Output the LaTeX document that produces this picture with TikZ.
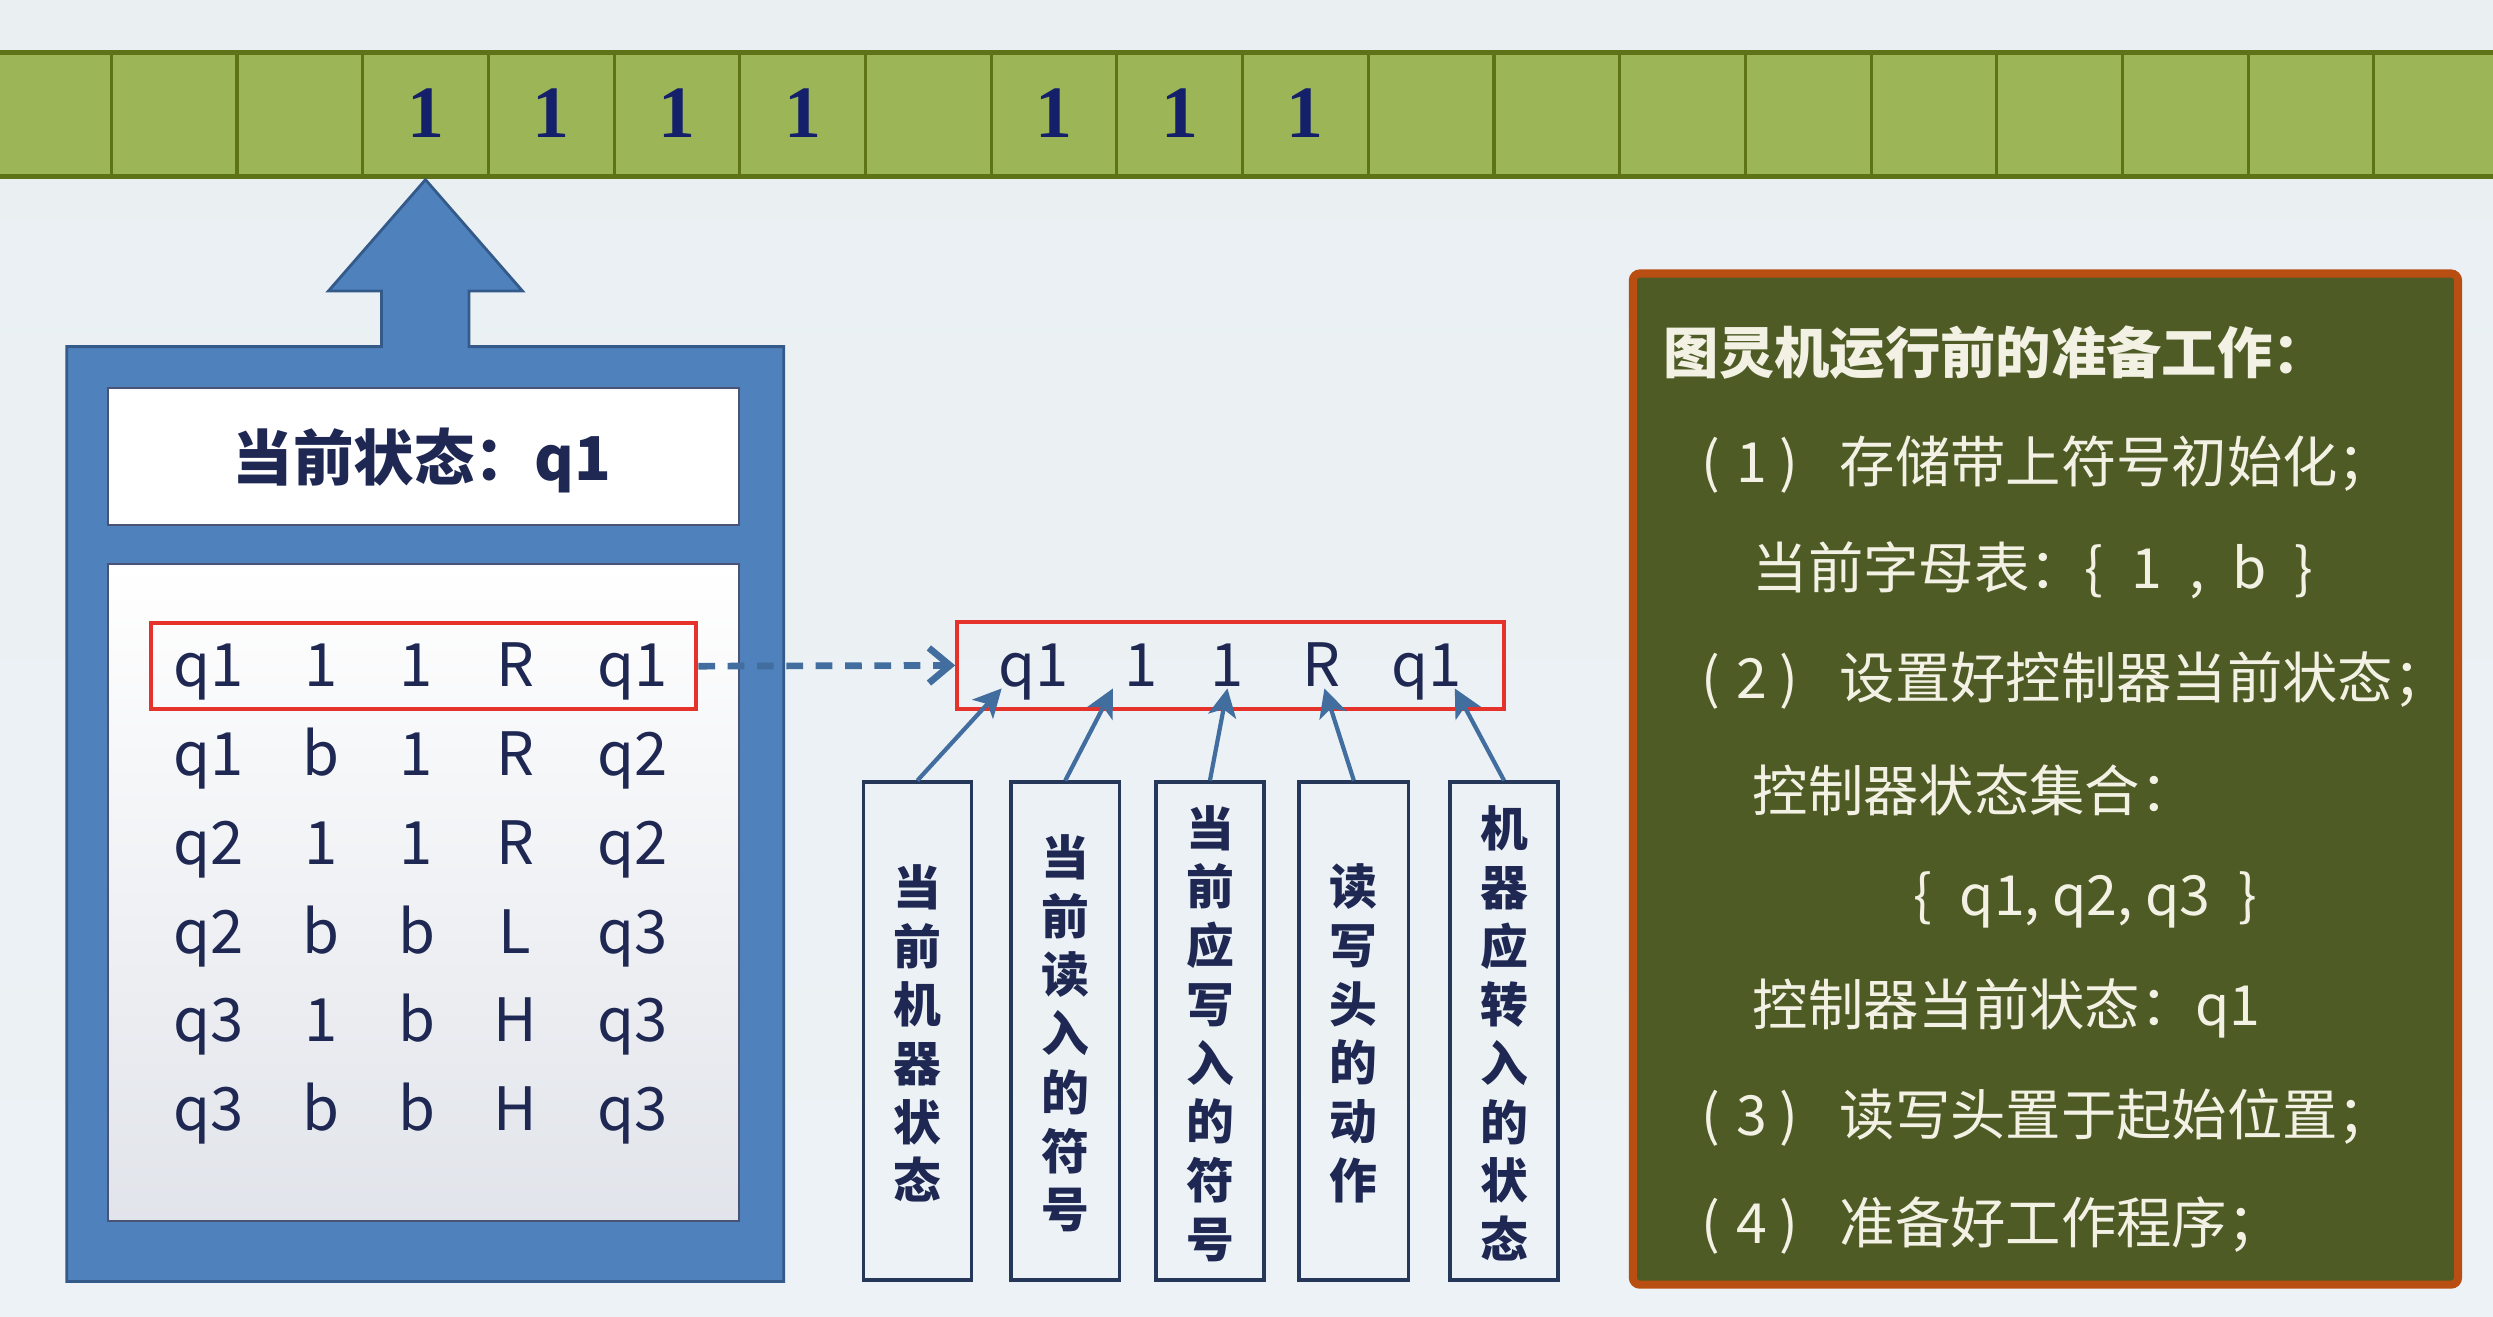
\documentclass[tikz,border=0pt]{standalone}
\usepackage{fontspec}
\setmainfont{Noto Sans CJK SC}
\newfontfamily\tapefont{Liberation Serif}
\usetikzlibrary{arrows.meta,fit}

\definecolor{bgtop}{HTML}{EAF0F2}
\definecolor{bgmid}{HTML}{F6FAFC}
\definecolor{bgbot}{HTML}{ECF2F5}
\definecolor{tapefill}{HTML}{9BB557}
\definecolor{tapeline}{HTML}{5E7317}
\definecolor{digitnavy}{HTML}{14206A}
\definecolor{ctrlblue}{HTML}{4F81BD}
\definecolor{ctrledge}{HTML}{345A8A}
\definecolor{inkblue}{HTML}{1E2852}
\definecolor{tablebot}{HTML}{E1E4EA}
\definecolor{selred}{HTML}{E5322B}
\definecolor{linkblue}{HTML}{416D9F}
\definecolor{labeledge}{HTML}{26385A}
\definecolor{panelfill}{HTML}{4E5B25}
\definecolor{paneledge}{HTML}{B84E12}
\definecolor{paneltext}{HTML}{F2F1E4}

% numbered step: "( n )" with open spacing
\newcommand{\stepnum}[1]{(\hspace{0.28em}#1\hspace{0.22em})\hspace{0.76em}}

\begin{document}
\begin{tikzpicture}[x=0.0159cm, y=-0.0159cm,
  cell/.style={draw=tapeline, line width=0.9pt, fill=tapefill},
  digit/.style={font=\tapefont\bfseries\fontsize{21}{21}\selectfont, text=digitnavy, inner sep=0pt},
  whitebox/.style={draw=inkblue!80, line width=0.6pt, fill=white, inner sep=0pt},
  entry/.style={anchor=base, inner sep=0pt, text=inkblue, font=\fontsize{17}{17}\selectfont},
  redbox/.style={draw=selred, line width=1.1pt, inner sep=0pt},
  labelbox/.style={draw=labeledge, line width=1pt, inner sep=0pt},
  labeltxt/.style={inner sep=0pt, align=center, text=inkblue,
    font=\bfseries\fontsize{13.6}{16.7}\selectfont},
  link/.style={draw=linkblue, line width=1.2pt, -{Stealth[length=8pt,width=8pt,inset=2pt]}},
  dashlink/.style={draw=linkblue, line width=1.9pt, dash pattern=on 4.75pt off 3.6pt,
    -{Straight Barb[length=6pt,width=10pt,line width=1.9pt]}},
  panelbox/.style={draw=paneledge, line width=2.3pt, fill=panelfill, inner sep=0pt, rounded corners=2pt},
  paneltxt/.style={anchor=west, inner sep=0pt, text=paneltext, font=\fontsize{15.75}{15.75}\selectfont},
]
\useasboundingbox (0,0) rectangle (1568,828);

% backdrop
\shade[top color=bgtop, middle color=bgmid, bottom color=bgbot] (0,0) rectangle (1568,828);

% tape cells
\foreach \k in {-1,...,18} {
  \path[cell] ({70+79.06*\k},33) rectangle ({70+79.06*(\k+1)},111);
}
\draw[tapeline, line width=1.5pt] (-10,33) -- (1580,33);
\draw[tapeline, line width=1.5pt] (-10,111) -- (1580,111);

% symbols on the tape
\foreach \k in {2,3,4,5,7,8,9} {
  \node[digit] (d\k) at ({70+79.06*\k+39.5},71) {1};
}

% control unit with its read/write head arrow
\draw[fill=ctrlblue, draw=ctrledge, line width=0.8pt, line join=miter]
  (42,806) -- (42,218) -- (240,218) -- (240,183) -- (206.6,183) -- (267.6,113)
  -- (328.6,183) -- (295,183) -- (295,218) -- (493,218) -- (493,806) -- cycle;

\node[whitebox, fit={(68,244)(465,330)}] (state) {};
\node[anchor=base, inner sep=0pt, text=inkblue, font=\bfseries\fontsize{17.2}{17.2}\selectfont]
  (statetxt) at (265.5,302) {当前状态：q1};
\node[whitebox, top color=white, bottom color=tablebot, fit={(68,355)(465,768)}] (rules) {};

% transition table
\foreach \row [count=\r] in {{q1,1,1,R,q1},{q1,b,1,R,q2},{q2,1,1,R,q2},{q2,b,b,L,q3},{q3,1,b,H,q3},{q3,b,b,H,q3}} {
  \foreach \sym [count=\c] in \row {
    \pgfmathsetmacro{\cx}{{131,202,262,324,398}[\c-1]}
    \node[entry] (e-\r-\c) at (\cx,{432+55.8*(\r-1)}) {\sym};
  }
}
\node[redbox, fit={(95,392)(438,446)}] (sel) {};

% the selected instruction, enlarged
\node[redbox, fit={(602,391)(946,446)}] (sel2) {};
\node[entry] (s1) at (650,432) {q1};
\node[entry] (s2) at (718,432) {1};
\node[entry] (s3) at (772,432) {1};
\node[entry] (s4) at (831,432) {R};
\node[entry] (s5) at (897,432) {q1};
\draw[dashlink] (sel.east) -- (sel2.west);

% explanations of the five fields
\node[labelbox, fit={(543,492)(611,805)}] (l1) {};
\node[labelbox, fit={(636,492)(704,805)}] (l2) {};
\node[labelbox, fit={(727,492)(795,805)}] (l3) {};
\node[labelbox, fit={(817,492)(886,805)}] (l4) {};
\node[labelbox, fit={(912,492)(980,805)}] (l5) {};
\node[labeltxt] (lt1) at (577,650) {当\\前\\机\\器\\状\\态};
\node[labeltxt] (lt2) at (670,650) {当\\前\\读\\入\\的\\符\\号};
\node[labeltxt] (lt3) at (761,650) {当\\前\\应\\写\\入\\的\\符\\号};
\node[labeltxt] (lt4) at (851.5,650) {读\\写\\头\\的\\动\\作};
\node[labeltxt] (lt5) at (946,650) {机\\器\\应\\转\\入\\的\\状\\态};

\coordinate (h1) at (630,433);
\coordinate (h2) at (700,433);
\coordinate (h3) at (772,433);
\coordinate (h4) at (833,433);
\coordinate (h5) at (915,433);
\draw[link] (l1.north) -- (h1);
\draw[link] (l2.north) -- (h2);
\draw[link] (l3.north) -- (h3);
\draw[link] (l4.north) -- (h4);
\draw[link] (l5.north) -- (h5);

% preparation steps
\node[panelbox, fit={(1027,172)(1546,808)}] (prep) {};
\node[paneltxt, font=\bfseries\fontsize{15.75}{15.75}\selectfont] (p0) at (1046,222) {图灵机运行前的准备工作：};
\node[paneltxt] (p1) at (1070,292) {\stepnum{1}存储带上符号初始化；};
\node[paneltxt] (p2) at (1102,359) {当前字母表：\{\enspace1\enspace,\enspace b\enspace\}};
\node[paneltxt] (p3) at (1070,428) {\stepnum{2}设置好控制器当前状态；};
\node[paneltxt] (p4) at (1102,497) {控制器状态集合：};
\node[paneltxt] (p5) at (1203,566) {\{\enspace q1, q2, q3\enspace\}};
\node[paneltxt] (p6) at (1102,634) {控制器当前状态：q1};
\node[paneltxt] (p7) at (1070,703) {\stepnum{3}读写头置于起始位置；};
\node[paneltxt] (p8) at (1070,771) {\stepnum{4}准备好工作程序；};
\end{tikzpicture}
\end{document}
